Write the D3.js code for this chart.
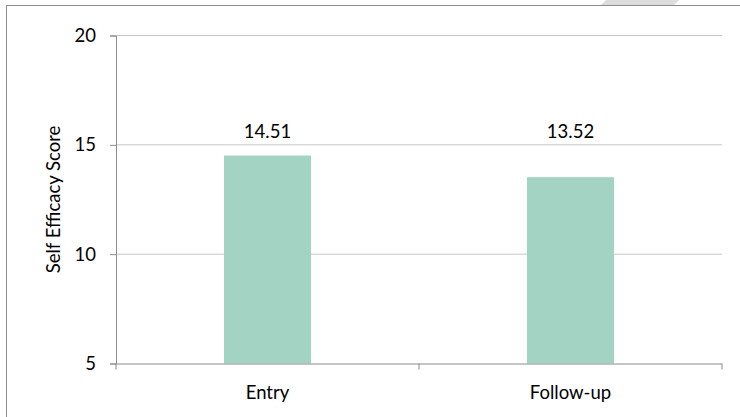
<!DOCTYPE html>
<html>
<head>
<meta charset="utf-8">
<script src="https://cdn.jsdelivr.net/npm/d3@7"></script>
<style>
  html, body { margin: 0; padding: 0; background: #fff; }
  svg { display: block; }
  text { font-family: Lato, "Open Sans", sans-serif; fill: #000; }
</style>
</head>
<body>
<svg id="chart" width="740" height="417"></svg>
<script>
// Self efficacy scores at entry and follow-up
const categories = ["Entry", "Follow-up"];
const scores = [14.51, 13.52];
const yTicks = [5, 10, 15, 20];
const yLabel = "Self Efficacy Score";

const svg = d3.select("#chart");
const W = 740, H = 417;
const plot = { left: 116, right: 722, top: 35.5, bottom: 363.5 };
const fontSize = 18.5;

// decorative tab at top right
svg.append("polygon")
  .attr("points", "607,-1 680,-1 673,6 600,6")
  .attr("fill", "#dcdcdc");

// outer frame (extends past the right and bottom edges)
svg.append("rect")
  .attr("x", 6.5).attr("y", 5.5)
  .attr("width", W + 20).attr("height", H + 20)
  .attr("fill", "none")
  .attr("stroke", "#8c8c8c")
  .attr("stroke-width", 1);

const x = d3.scaleBand()
  .domain(categories)
  .range([plot.left, plot.right])
  .paddingInner(0.713)
  .paddingOuter(0.3565);

const y = d3.scaleLinear()
  .domain([5, 20])
  .range([plot.bottom, plot.top]);

// horizontal gridlines
svg.append("g")
  .selectAll("line")
  .data(yTicks.filter(t => t !== 5))
  .join("line")
  .attr("x1", plot.left).attr("x2", plot.right)
  .attr("y1", d => y(d)).attr("y2", d => y(d))
  .attr("stroke", "#c6c6c6")
  .attr("stroke-width", 1);

// bars
svg.append("g")
  .selectAll("rect")
  .data(scores)
  .join("rect")
  .attr("x", (d, i) => x(categories[i]))
  .attr("width", x.bandwidth())
  .attr("y", d => y(d))
  .attr("height", d => y(5) - y(d))
  .attr("fill", "#a3d3c3");

// value labels share one baseline above the tallest bar
const labelY = y(d3.max(scores)) - 18;
svg.append("g")
  .selectAll("text")
  .data(scores)
  .join("text")
  .attr("x", (d, i) => x(categories[i]) + x.bandwidth() / 2)
  .attr("y", labelY)
  .attr("text-anchor", "middle")
  .attr("font-size", fontSize)
  .text(d => d.toFixed(2));

// y axis
const yAxis = svg.append("g")
  .attr("transform", `translate(${plot.left},0)`)
  .call(d3.axisLeft(y).tickValues(yTicks).tickSize(6).tickPadding(14).tickFormat(d3.format("d")));
yAxis.select(".domain").attr("stroke", "#8c8c8c");
yAxis.selectAll(".tick line").attr("stroke", "#8c8c8c");
yAxis.selectAll(".tick text").attr("font-size", fontSize).attr("font-family", "Lato, sans-serif").attr("fill", "#000");

// x axis with ticks at category boundaries
const xAxisG = svg.append("g")
  .attr("transform", `translate(0,${plot.bottom})`);
xAxisG.append("line")
  .attr("x1", plot.left).attr("x2", plot.right)
  .attr("y1", 0.5).attr("y2", 0.5)
  .attr("stroke", "#8c8c8c");
const step = (plot.right - plot.left) / categories.length;
xAxisG.selectAll("line.tick")
  .data(d3.range(categories.length + 1))
  .join("line")
  .attr("class", "tick")
  .attr("x1", d => plot.left + d * step).attr("x2", d => plot.left + d * step)
  .attr("y1", 0).attr("y2", 6)
  .attr("stroke", "#8c8c8c");
xAxisG.selectAll("text")
  .data(categories)
  .join("text")
  .attr("x", d => x(d) + x.bandwidth() / 2)
  .attr("y", 35)
  .attr("text-anchor", "middle")
  .attr("font-size", fontSize)
  .text(d => d);

// y axis title
svg.append("text")
  .attr("transform", `translate(60,${(plot.top + plot.bottom) / 2}) rotate(-90)`)
  .attr("text-anchor", "middle")
  .attr("font-size", 18.5)
  .text(yLabel);
</script>
</body>
</html>
